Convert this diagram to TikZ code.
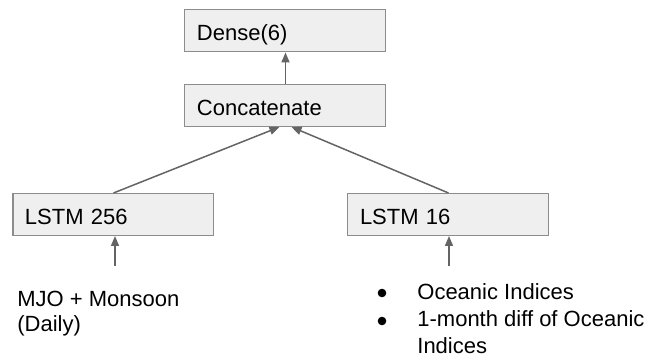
\documentclass[tikz,border=0pt]{standalone}
\usepackage{fontspec}
\setmainfont{Liberation Sans}
\usepackage{tikz}
\usetikzlibrary{arrows.meta}
\definecolor{boxfill}{RGB}{239, 239, 239}
\definecolor{boxline}{RGB}{140, 140, 140}
\definecolor{arrowgray}{RGB}{100, 100, 100}

\begin{document}
\begin{tikzpicture}[x={(0.5pt, 0)}, y={(0, -0.5pt)},
  layer/.style={draw=boxline, fill=boxfill, line width=0.5pt,
                text width=88.5pt, inner xsep=6pt, inner ysep=0pt,
                text height=11pt, text depth=1pt,
                minimum height=21pt, align=left,
                font=\fontsize{11}{12.5}\selectfont},
  flow/.style={draw=arrowgray, line width=0.75pt,
               -{Triangle[length=5pt, width=4pt]}},
  note/.style={inner sep=0pt, align=left, anchor=base west}]

  \useasboundingbox (0, 0) rectangle (650, 356);

  \node[layer] (dense)  at (285.5, 31)    {Dense(6)};
  \node[layer] (concat) at (285.5, 105.5) {Concatenate};
  \node[layer] (lstmA)  at (113.5, 214.5) {LSTM 256};
  \node[layer] (lstmB)  at (448.5, 214.5) {LSTM 16};

  \draw[flow] (concat) -- (dense);
  \draw[flow] (lstmA.north) -- ([xshift=-3pt]concat.south);
  \draw[flow] (lstmB.north) -- ([xshift=3pt]concat.south);

  % inputs
  \coordinate (inA) at (115, 266);
  \coordinate (inB) at (449, 266);
  \draw[flow] (inA) -- (inA |- lstmA.south);
  \draw[flow] (inB) -- (inB |- lstmB.south);

  % base of a multi-line note is its last line
  \node[note, font=\fontsize{11}{12.5}\selectfont] (mjo) at (17, 332)
    {MJO + Monsoon\\(Daily)};
  \node[note, font=\fontsize{11}{13.5}\selectfont] (ocean) at (417, 354)
    {Oceanic Indices\\
     1-month diff of Oceanic\\
     Indices};

  \foreach \dy in {61, 33} {
    \fill[black] ([shift={(-35, -\dy)}]ocean.base west) circle (2.15pt);
  }

\end{tikzpicture}
\end{document}
